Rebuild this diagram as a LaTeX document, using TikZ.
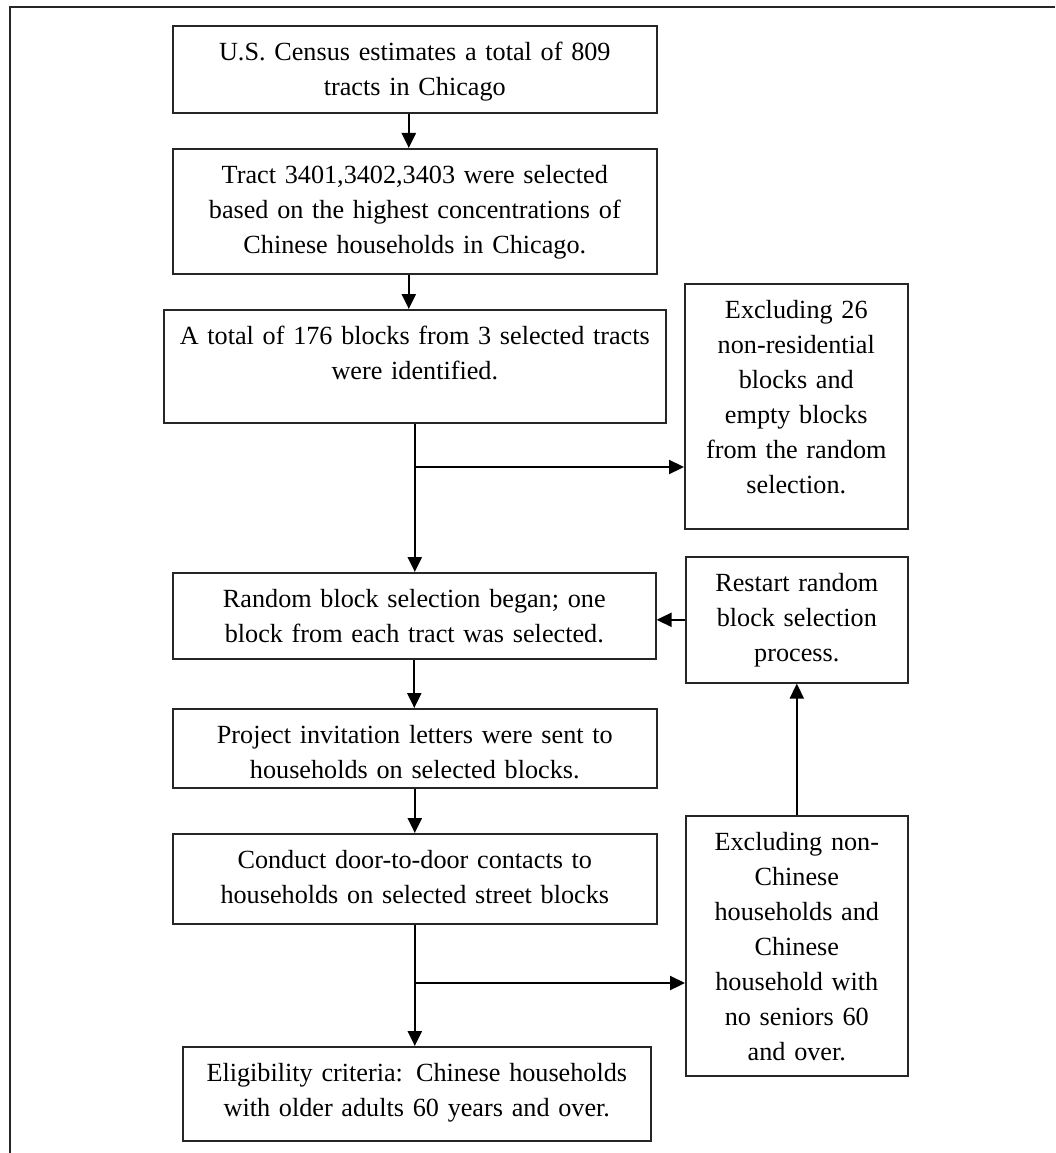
\documentclass[tikz,border=0pt]{standalone}
\usepackage{fontspec}
\setmainfont{Liberation Serif}
\usetikzlibrary{arrows.meta}
\begin{document}
\begin{tikzpicture}[x=1pt,y=1pt,
  box/.style={draw=black!85, line width=1.6pt, inner sep=0pt, anchor=north west, align=center,
    font=\fontsize{26.2}{35}\selectfont, text height=35pt},
  arr/.style={line width=2.2pt, -{Triangle[length=15pt,width=14pt]}},
  frameline/.style={line width=2.2pt, draw=black!85}]
\useasboundingbox (0,0) rectangle (1055,-1153);
\draw[frameline] (10,-1153) -- (10,-7) -- (1055,-7);

\node[box, text width=484pt, text depth=52pt] (b1) at (172,-25)
  {U.S. Census estimates a total of 809\\tracts in Chicago};
\node[box, text width=484pt, text depth=90pt] (b2) at (172,-148)
  {Tract 3401,3402,3403 were selected\\based on the highest concentrations of\\Chinese households in Chicago.};
\node[box, text width=502pt, text depth=78pt] (b3) at (163,-309)
  {A total of 176 blocks from 3 selected tracts\\were identified.};
\node[box, text width=223pt, text depth=210pt] (r1) at (684,-283)
  {Excluding 26\\non-residential\\blocks and\\empty blocks\\from the random\\selection.};
\node[box, text width=483pt, text depth=51pt] (b4) at (172,-572)
  {Random block selection began; one\\block from each tract was selected.};
\node[box, text width=222pt, text depth=91pt] (r2) at (685,-556)
  {Restart random\\block selection\\process.};
\node[box, text width=484pt, text depth=44pt] (b5) at (172,-708)
  {Project invitation letters were sent to\\households on selected blocks.};
\node[box, text width=484pt, text depth=55pt] (b6) at (172,-833)
  {Conduct door-to-door contacts to\\households on selected street blocks};
\node[box, text width=222pt, text depth=225pt] (r3) at (685,-815)
  {Excluding non-\\Chinese\\households and\\Chinese\\household with\\no seniors 60\\and over.};
\node[box, text width=468pt, text depth=59pt] (b7) at (182,-1046)
  {Eligibility criteria: Chinese households\\with older adults 60 years and over.};

\coordinate (j1) at (414,-467);
\coordinate (j2) at (414,-983);

\draw[arr] ([xshift=-6pt]b1.south) -- ([xshift=-6pt]b2.north);
\draw[arr] ([xshift=-6pt]b2.south) -- ([xshift=-6pt]b3.north);
\draw[arr] (b3.south) -- (b3.south |- b4.north);
\draw[arr] (j1) -- (j1 -| r1.west);
\draw[arr] (r2.west) -- (r2.west -| b4.east);
\draw[arr] (b4.south) -- (b4.south |- b5.north);
\draw[arr] (b5.south) -- (b5.south |- b6.north);
\draw[arr] (b6.south) -- (b6.south |- b7.north);
\draw[arr] (j2) -- (j2 -| r3.west);
\draw[arr] (r3.north) -- (r2.south);
\end{tikzpicture}
\end{document}
